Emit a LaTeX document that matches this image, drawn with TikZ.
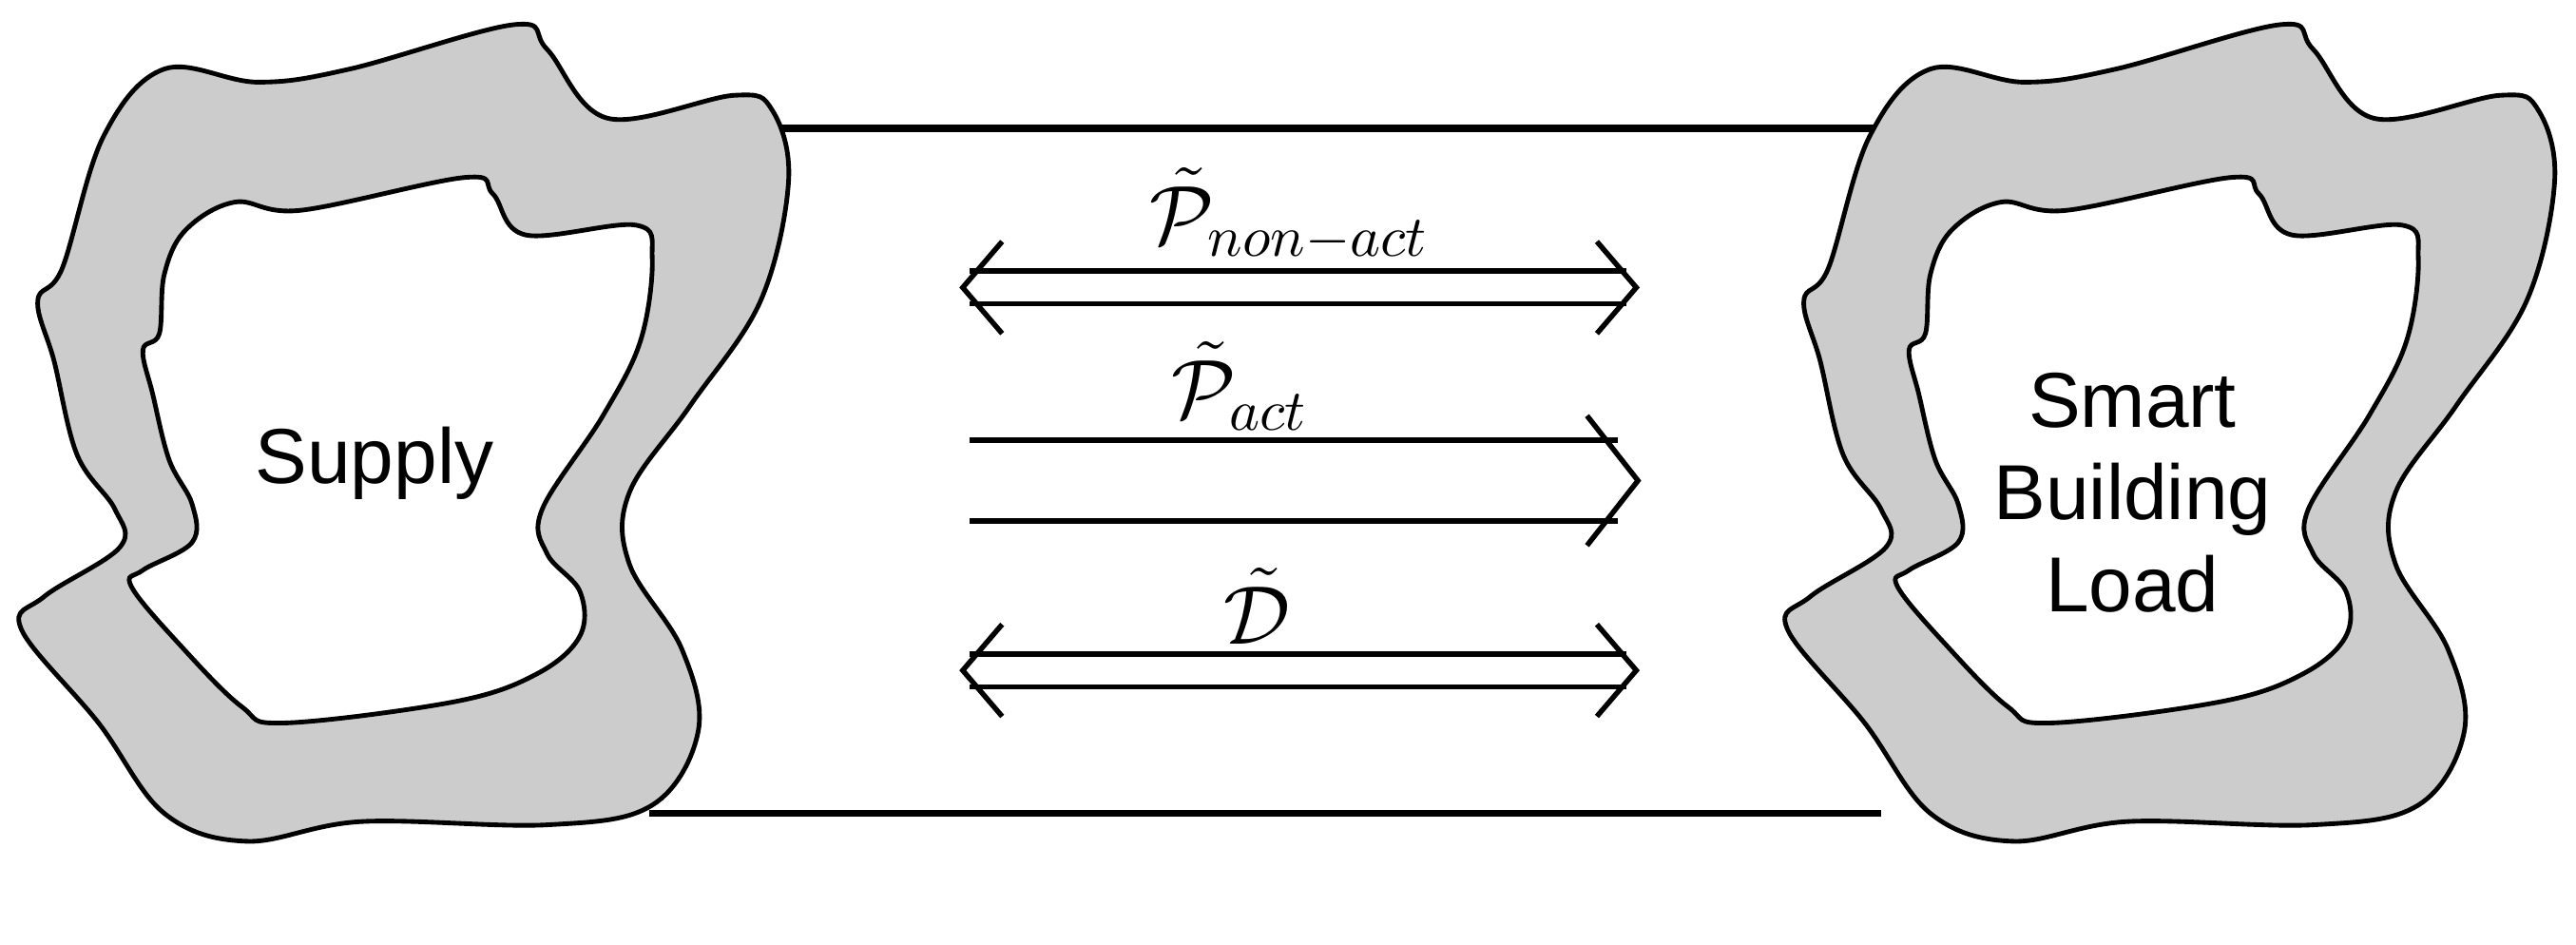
\documentclass[tikz,border=0pt]{standalone}
\usepackage{amsmath, amssymb}
\usepackage{fontspec}
\setmainfont{Liberation Sans}
\usepackage{tikz}
\usetikzlibrary{positioning}

\tikzset{
  blob/.style={draw=black, line width=0.8pt, fill=black!20},
  hole/.style={draw=black, line width=0.8pt, fill=white},
  rail/.style={line width=1.3pt},
  flow/.style={line width=0.9pt},
  tip/.style={line width=0.9pt, line join=miter},
  word/.style={font=\fontsize{13.5}{16}\selectfont, align=center, inner sep=0pt},
  sym/.style={font=\fontsize{14}{16}\selectfont, inner sep=1pt, anchor=south}
}

\newcommand{\cloudy}[1]{%
  \begin{scope}[shift={(#1,0)}]
    \draw [blob] plot [smooth cycle, tension=0.6] coordinates {
      (0.38,-1.63) (0.63,-0.83) (1.00,-0.42) (1.57,-0.50) (2.13,-0.42) (3.13,-0.15)
      (3.33,-0.30) (3.70,-0.72) (4.47,-0.58) (4.70,-0.67) (4.80,-1.10) (4.63,-1.83)
      (4.20,-2.47) (3.83,-3.00) (3.83,-3.43) (4.15,-3.95) (4.25,-4.45) (3.97,-4.90)
      (3.33,-5.02) (2.20,-5.00) (1.50,-5.12) (1.00,-4.95) (0.60,-4.40) (0.13,-3.83)
      (0.27,-3.63) (0.73,-3.33) (0.70,-3.10) (0.47,-2.77) (0.33,-2.20) (0.23,-1.83)};
    \draw [hole] plot [smooth cycle, tension=0.6] coordinates {
      (1.43,-1.23) (1.83,-1.28) (2.83,-1.08) (3.00,-1.18) (3.20,-1.43) (3.87,-1.37)
      (3.97,-1.57) (3.90,-2.07) (3.67,-2.53) (3.30,-3.10) (3.33,-3.37) (3.53,-3.60)
      (3.53,-3.87) (3.27,-4.10) (2.77,-4.27) (1.73,-4.40) (1.47,-4.30) (1.10,-3.93)
      (0.80,-3.57) (0.87,-3.47) (1.17,-3.30) (1.17,-3.07) (1.03,-2.80) (0.93,-2.40)
      (0.87,-2.13) (0.97,-2.03) (1.00,-1.67) (1.13,-1.40)};
  \end{scope}}

\begin{document}
\begin{tikzpicture}
    \useasboundingbox (0,0) rectangle (15.68,-5.75);
    % connecting band
    \coordinate (tl) at (4.70,-0.78);
    \coordinate (tr) at (11.45,-0.78);
    \coordinate (bl) at (3.95,-4.95);
    \coordinate (br) at (11.45,-4.95);
    \draw [rail] (tl) -- (tr);
    \draw [rail] (bl) -- (br);
    % the two regions
    \cloudy{0}
    \cloudy{10.75}
    \node [word] (supply) at (2.28,-2.82) {Supply};
    \node [word] (load) at (12.98,-3.00) {Smart\\Building\\Load};
    % non-active power, both ways
    \coordinate (a1) at (5.90,-1.65);
    \coordinate (b1) at (9.90,-1.65);
    \coordinate (a2) at (5.90,-1.85);
    \coordinate (b2) at (9.90,-1.85);
    \draw [flow] (a1) -- (b1);
    \draw [flow] (a2) -- (b2);
    \draw [tip] (6.10,-1.47) -- (5.86,-1.75) -- (6.10,-2.03);
    \draw [tip] (9.72,-1.47) -- (9.96,-1.75) -- (9.72,-2.03);
    \node [sym] (pnon) at (7.85,-1.63) {$\tilde{\mathcal{P}}_{non-act}$};
    % active power
    \coordinate (c1) at (5.90,-2.68);
    \coordinate (d1) at (9.85,-2.68);
    \coordinate (c2) at (5.90,-3.17);
    \coordinate (d2) at (9.85,-3.17);
    \draw [flow] (c1) -- (d1);
    \draw [flow] (c2) -- (d2);
    \draw [tip] (9.66,-2.53) -- (9.97,-2.925) -- (9.66,-3.32);
    \node [sym] (pact) at (7.55,-2.66) {$\tilde{\mathcal{P}}_{act}$};
    % demand
    \coordinate (e1) at (5.90,-3.98);
    \coordinate (f1) at (9.90,-3.98);
    \coordinate (e2) at (5.90,-4.18);
    \coordinate (f2) at (9.90,-4.18);
    \draw [flow] (e1) -- (f1);
    \draw [flow] (e2) -- (f2);
    \draw [tip] (6.10,-3.80) -- (5.86,-4.08) -- (6.10,-4.36);
    \draw [tip] (9.72,-3.80) -- (9.96,-4.08) -- (9.72,-4.36);
    \node [sym] (dem) at (7.65,-3.96) {$\tilde{\mathcal{D}}$};
\end{tikzpicture}
\end{document}
